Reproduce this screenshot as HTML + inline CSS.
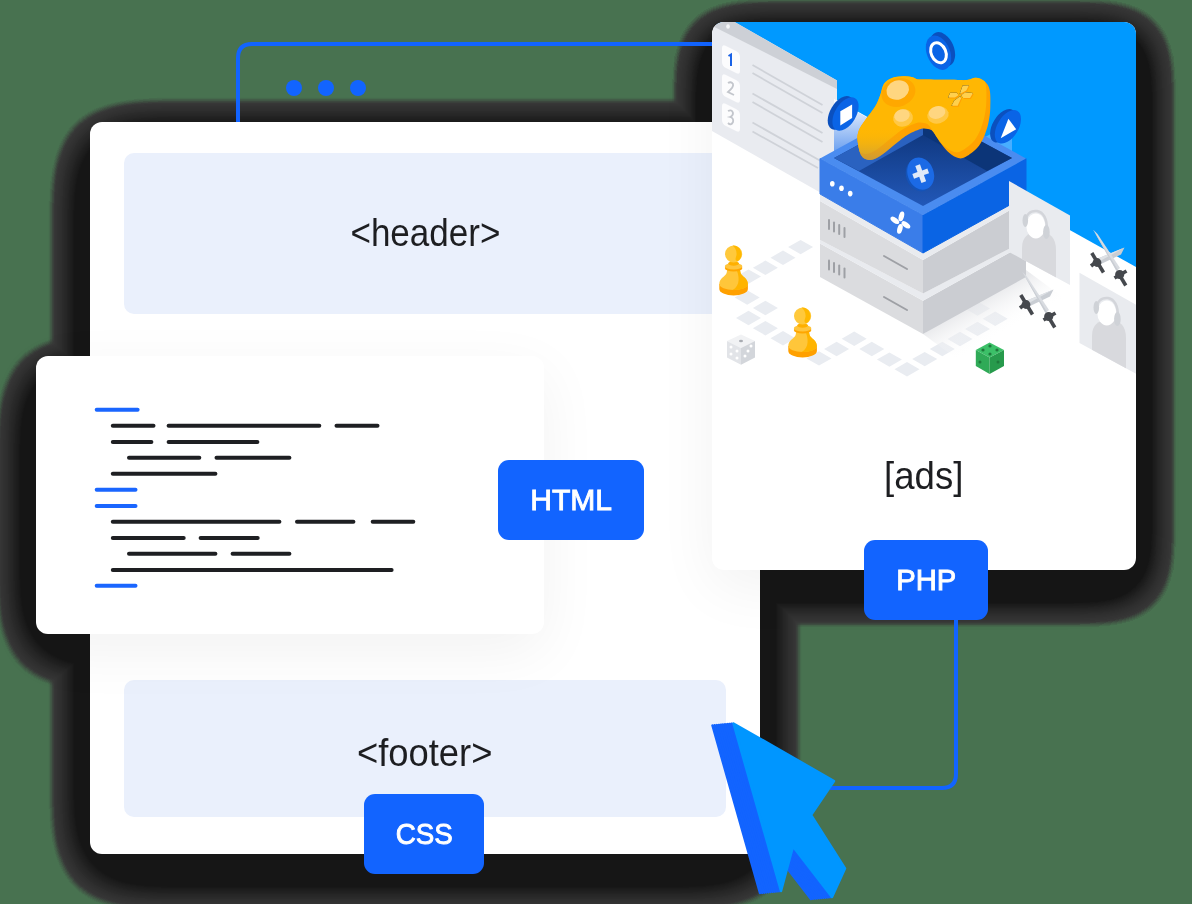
<!DOCTYPE html>
<html><head><meta charset="utf-8">
<style>
html,body{margin:0;padding:0;}
body{width:1192px;height:904px;overflow:hidden;background:#487250;position:relative;font-family:"Liberation Sans",sans-serif;}
.abs{position:absolute;}
.shd{position:absolute;background:#1c1c1c;filter:blur(5px);}
.panel{position:absolute;background:#fff;}
.box{position:absolute;background:#eaf0fc;border-radius:10px;}
.lbl{position:absolute;color:#1d1e21;font-size:38.5px;text-align:center;line-height:1;}
.lbl span,.btn span{display:inline-block;}
.btn{position:absolute;background:#1264ff;border-radius:11px;color:#fff;font-size:29.5px;font-weight:normal;-webkit-text-stroke:0.9px #fff;text-align:center;}
</style></head>
<body>
<!-- shadows -->
<svg class="abs" style="left:0;top:0" width="1192" height="904">
  <defs>
    <filter id="sh" filterUnits="userSpaceOnUse" x="-300" y="-300" width="1800" height="1500" color-interpolation-filters="sRGB">
      <feOffset in="SourceAlpha" dy="17" result="o"/>
      <feGaussianBlur in="o" stdDeviation="32" result="b"/>
      <feComponentTransfer in="b" result="t1"><feFuncA type="linear" slope="29" intercept="-2.57"/></feComponentTransfer>
      <feComponentTransfer in="b" result="t2"><feFuncA type="linear" slope="4.7" intercept="-0.5"/></feComponentTransfer>
      <feFlood flood-color="#3a3a3a" result="f1"/>
      <feComposite in="f1" in2="t1" operator="in" result="c1"/>
      <feFlood flood-color="#161616" result="f2"/>
      <feComposite in="f2" in2="t2" operator="in" result="c2"/>
      <feMerge><feMergeNode in="c1"/><feMergeNode in="c2"/></feMerge>
    </filter>
    <filter id="sh2" filterUnits="userSpaceOnUse" x="-300" y="-300" width="1800" height="1500" color-interpolation-filters="sRGB">
      <feOffset in="SourceAlpha" dy="17" result="o"/>
      <feGaussianBlur in="o" stdDeviation="24" result="b"/>
      <feComponentTransfer in="b" result="t1"><feFuncA type="linear" slope="40" intercept="-1.42"/></feComponentTransfer>
      <feComponentTransfer in="b" result="t2"><feFuncA type="linear" slope="4.7" intercept="-0.225"/></feComponentTransfer>
      <feFlood flood-color="#3a3a3a" result="f1"/>
      <feComposite in="f1" in2="t1" operator="in" result="c1"/>
      <feFlood flood-color="#161616" result="f2"/>
      <feComposite in="f2" in2="t2" operator="in" result="c2"/>
      <feMerge><feMergeNode in="c1"/><feMergeNode in="c2"/></feMerge>
    </filter>
  </defs>
  <rect style="mix-blend-mode:darken" filter="url(#sh)" x="90" y="122" width="670" height="732" rx="12"/>
  <rect style="mix-blend-mode:darken" filter="url(#sh)" x="36" y="356" width="508" height="278" rx="12"/>
  <rect style="mix-blend-mode:darken" filter="url(#sh2)" x="712" y="22" width="424" height="548" rx="12"/>
</svg>

<!-- blue outline -->
<svg class="abs" style="left:0;top:0" width="1192" height="904">
  <path d="M238 122 V58 Q238 44 252 44 H720" fill="none" stroke="#1264ff" stroke-width="4"/>
  <circle cx="294" cy="88" r="8" fill="#1264ff"/>
  <circle cx="326" cy="88" r="8" fill="#1264ff"/>
  <circle cx="358" cy="88" r="8" fill="#1264ff"/>
  <path d="M956 620 V774 Q956 788 942 788 H830" fill="none" stroke="#1264ff" stroke-width="4"/>
</svg>

<!-- main panel -->
<div class="panel" style="left:90px;top:122px;width:670px;height:732px;border-radius:12px;"></div>
<div class="box" style="left:124px;top:153px;width:602px;height:161px;"></div>
<div class="lbl" style="left:124px;top:214px;width:602px;"><span style="transform:scaleX(0.91)">&lt;header&gt;</span></div>
<div class="box" style="left:124px;top:680px;width:602px;height:137px;"></div>
<div class="lbl" style="left:124px;top:734px;width:602px;"><span style="transform:scaleX(0.944)">&lt;footer&gt;</span></div>

<!-- code panel -->
<div class="panel" style="left:36px;top:356px;width:508px;height:278px;border-radius:12px;box-shadow:0 17px 60px rgba(0,0,0,0.055);"></div>
<svg class="abs" style="left:0;top:0" width="1192" height="904" stroke-linecap="round" stroke-width="4" fill="none">
<line x1="96.7" y1="409.7" x2="137.6" y2="409.7" stroke="#1a66ff"/>
<line x1="112.8" y1="425.8" x2="153.5" y2="425.8" stroke="#1e1f22"/>
<line x1="168.6" y1="425.8" x2="319.3" y2="425.8" stroke="#1e1f22"/>
<line x1="336.5" y1="425.8" x2="377.5" y2="425.8" stroke="#1e1f22"/>
<line x1="112.8" y1="442.0" x2="151.4" y2="442.0" stroke="#1e1f22"/>
<line x1="168.6" y1="442.0" x2="257.4" y2="442.0" stroke="#1e1f22"/>
<line x1="129.0" y1="457.8" x2="199.3" y2="457.8" stroke="#1e1f22"/>
<line x1="216.5" y1="457.8" x2="289.4" y2="457.8" stroke="#1e1f22"/>
<line x1="112.8" y1="473.7" x2="215.4" y2="473.7" stroke="#1e1f22"/>
<line x1="96.7" y1="489.8" x2="135.5" y2="489.8" stroke="#1a66ff"/>
<line x1="96.7" y1="506.0" x2="135.5" y2="506.0" stroke="#1a66ff"/>
<line x1="112.8" y1="521.8" x2="279.4" y2="521.8" stroke="#1e1f22"/>
<line x1="297.0" y1="521.8" x2="353.4" y2="521.8" stroke="#1e1f22"/>
<line x1="372.7" y1="521.8" x2="413.3" y2="521.8" stroke="#1e1f22"/>
<line x1="112.8" y1="538.0" x2="183.7" y2="538.0" stroke="#1e1f22"/>
<line x1="200.6" y1="538.0" x2="257.7" y2="538.0" stroke="#1e1f22"/>
<line x1="129.0" y1="553.8" x2="215.4" y2="553.8" stroke="#1e1f22"/>
<line x1="232.6" y1="553.8" x2="289.4" y2="553.8" stroke="#1e1f22"/>
<line x1="112.8" y1="570.0" x2="391.6" y2="570.0" stroke="#1e1f22"/>
<line x1="96.7" y1="585.8" x2="135.5" y2="585.8" stroke="#1a66ff"/>
</svg>

<div class="btn" style="left:498px;top:460px;width:146px;height:80px;line-height:80px;"><span style="transform:scaleX(1.02)">HTML</span></div>

<!-- ads panel -->
<div class="panel" style="left:712px;top:22px;width:424px;height:548px;border-radius:12px;overflow:hidden;box-shadow:0 17px 60px rgba(0,0,0,0.055);">
<svg width="424" height="548" viewBox="712 22 424 548" style="position:absolute;left:0;top:0">
<defs>
  <linearGradient id="glass" x1="0" y1="0" x2="0" y2="1">
    <stop offset="0" stop-color="#ffffff" stop-opacity="1"/>
    <stop offset="1" stop-color="#5a95ee" stop-opacity="1"/>
  </linearGradient>
  <linearGradient id="cav" x1="0" y1="0" x2="0" y2="1">
    <stop offset="0" stop-color="#0a2e6e"/>
    <stop offset="1" stop-color="#2258b8"/>
  </linearGradient>
  <linearGradient id="fshadow" gradientUnits="userSpaceOnUse" x1="972" y1="305" x2="992" y2="340">
    <stop offset="0" stop-color="#e4e5e8"/>
    <stop offset="1" stop-color="#ffffff" stop-opacity="0"/>
  </linearGradient>
  <clipPath id="clipA"><polygon points="1009,181 1070,215.5 1070,285 1009,252"/></clipPath>
  <clipPath id="clipB"><polygon points="1079.5,272.7 1140,307 1140,376 1079.5,343"/></clipPath>
</defs>
<!-- sky -->
<polygon points="712,22 1136,22 1136,267 837,100 712,22" fill="#0099ff"/>

<!-- list panel -->
<polygon points="712,22 734.7,22 837,80.5 837,202 712,131" fill="#e9ebf0"/>
<polygon points="718,22 734.5,22 837,80.5 837,89 712.5,26" fill="#cdd0d6"/>
<ellipse cx="728" cy="26.5" rx="1.8" ry="2.3" fill="#f5f6f8"/>
<g fill="#fcfcfd">
  <path d="M722 48 Q722 44 726 46 L736 51 Q740 53 740 57 L740 71 Q740 75 736 73 L726 68 Q722 66 722 62 Z"/>
  <path d="M722 77 Q722 73 726 75 L736 80 Q740 82 740 86 L740 100 Q740 104 736 102 L726 97 Q722 95 722 91 Z"/>
  <path d="M722 106 Q722 102 726 104 L736 109 Q740 111 740 115 L740 129 Q740 133 736 131 L726 126 Q722 124 722 120 Z"/>
</g>
<path d="M728.5 56 L731 54.5 L731 66" fill="none" stroke="#1a62e6" stroke-width="2"/>
<path d="M728 83 Q731 81 733 84 Q734 87 728 92 L734 95" fill="none" stroke="#c3c6cc" stroke-width="1.8"/>
<path d="M728 111 Q732 109 733 113 Q733 116 730 117 Q734 118 733 122 Q731 126 728 123" fill="none" stroke="#c3c6cc" stroke-width="1.8"/>
<g stroke="#cfd2d8" stroke-width="1.8">
  <line x1="752.5" y1="65" x2="822.5" y2="105"/>
  <line x1="752.5" y1="73" x2="822.5" y2="113"/>
  <line x1="752.5" y1="93.5" x2="822.5" y2="133"/>
  <line x1="752.5" y1="102" x2="822.5" y2="142"/>
  <line x1="752.5" y1="122.5" x2="822.5" y2="162"/>
  <line x1="752.5" y1="131.5" x2="818" y2="168"/>
</g>

<!-- floor tiles -->
<g fill="#e9ecf1">
  <polygon points="788.1,247.1 800.6,239.9 813.1,247.1 800.6,254.3"/>
  <polygon points="770.5,257.7 783.0,250.5 795.5,257.7 783.0,264.9"/>
  <polygon points="752.9,267.8 765.4,260.6 777.9,267.8 765.4,275.0"/>
  <polygon points="736.0,276.6 748.5,269.4 761.0,276.6 748.5,283.8"/>
  <polygon points="734.7,297.5 747.2,290.3 759.7,297.5 747.2,304.7"/>
  <polygon points="752.9,308.0 765.4,300.8 777.9,308.0 765.4,315.2"/>
  <polygon points="736.0,318.0 748.5,310.8 761.0,318.0 748.5,325.2"/>
  <polygon points="752.9,328.2 765.4,321.0 777.9,328.2 765.4,335.4"/>
  <polygon points="770.5,338.2 783.0,331.0 795.5,338.2 783.0,345.4"/>
  <polygon points="806.5,358.4 819.0,351.2 831.5,358.4 819.0,365.6"/>
  <polygon points="824.1,349.0 836.6,341.8 849.1,349.0 836.6,356.2"/>
  <polygon points="841.7,338.7 854.2,331.5 866.7,338.7 854.2,345.9"/>
  <polygon points="859.3,349.0 871.8,341.8 884.3,349.0 871.8,356.2"/>
  <polygon points="876.9,359.6 889.4,352.4 901.9,359.6 889.4,366.8"/>
  <polygon points="894.5,369.2 907.0,362.0 919.5,369.2 907.0,376.4"/>
  <polygon points="912.2,359.1 924.7,351.9 937.2,359.1 924.7,366.3"/>
  <polygon points="929.8,349.0 942.3,341.8 954.8,349.0 942.3,356.2"/>
  <polygon points="947.5,339.0 960.0,331.8 972.5,339.0 960.0,346.2"/>
  <polygon points="965.0,328.9 977.5,321.7 990.0,328.9 977.5,336.1"/>
  <polygon points="982.7,318.8 995.2,311.6 1007.7,318.8 995.2,326.0"/>
  <polygon points="965.0,308.5 977.5,301.3 990.0,308.5 977.5,315.7"/>
</g>
<!-- floor shadow right of box -->
<polygon points="923,334 1026,270 1080,310 975,372" fill="url(#fshadow)" opacity="0.8"/>

<!-- avatar panel A (behind? drawn after boxes) -->
<!-- gray box 2 -->
<polygon points="820,243.5 923,300.7 923,334 820,277" fill="#dbdcdf"/>
<polygon points="923,300.7 1026,243.5 1026,277 923,334" fill="#cbcdd2"/>
<polygon points="820,240 923,293.4 1026,240 1026,243.5 923,300.7 820,243.5" fill="#e9ebef"/>
<!-- gray box 1 -->
<polygon points="820,201 923,260 923,293.4 820,240" fill="#dbdcdf"/>
<polygon points="923,260 1026,201 1026,240 923,293.4" fill="#cbcdd2"/>
<polygon points="820,194 923,253 1026,194 1026,201 923,260 820,201" fill="#e9ebef"/>
<g stroke="#9ea0a5" stroke-width="2" stroke-linecap="round">
  <line x1="829" y1="220" x2="829" y2="229"/>
  <line x1="834" y1="222.5" x2="834" y2="231.5"/>
  <line x1="839.2" y1="225" x2="839.2" y2="234"/>
  <line x1="844.5" y1="228" x2="844.5" y2="237"/>
  <line x1="829" y1="260.6" x2="829" y2="269.6"/>
  <line x1="834" y1="263.1" x2="834" y2="272.1"/>
  <line x1="839.2" y1="265.6" x2="839.2" y2="274.6"/>
  <line x1="844.5" y1="268.6" x2="844.5" y2="277.6"/>
  <line x1="884" y1="256" x2="907" y2="269"/>
  <line x1="884" y1="297" x2="907" y2="310"/>
</g>

<!-- blue box -->
<polygon points="820,158.5 923,215 923,253 820,194" fill="#3a7de9" stroke="#3a7de9" stroke-width="1"/>
<polygon points="923,215 1026,158.5 1026,196 923,253" fill="#0a64e4" stroke="#0a64e4" stroke-width="1"/>
<!-- glass walls -->
<polygon points="834,99 895,133 834,158" fill="url(#glass)"/>
<polygon points="985,137 1012,123 1012,158" fill="#8fc3ff" opacity="0.5"/>
<!-- rim -->
<polygon points="820,158.5 923,102 1026,158.5 923,215" fill="#4a8cf0"/>
<polygon points="834,158 923,110 1012,158 923,206" fill="url(#cav)"/>
<polygon points="834,158 923,110 923,135 859,171" fill="#2a62c0"/>
<polygon points="923,110 1012,158 987,171 923,135" fill="#0c3578"/>
<!-- dots & pinwheel on left face -->
<g fill="#fff">
  <ellipse cx="832.3" cy="183.7" rx="2.3" ry="2.8"/>
  <ellipse cx="841.5" cy="188.3" rx="2.3" ry="2.8"/>
  <ellipse cx="850.2" cy="193.6" rx="2.3" ry="2.8"/>
  <g transform="translate(900.4 222.3)">
    <ellipse cx="1" cy="-6" rx="2.6" ry="5" transform="rotate(15 1 -6)"/>
    <ellipse cx="5.5" cy="2.5" rx="5" ry="2.6" transform="rotate(35 5.5 2.5)"/>
    <ellipse cx="-0.5" cy="6.5" rx="2.6" ry="5" transform="rotate(15 -0.5 6.5)"/>
    <ellipse cx="-5.5" cy="-2" rx="5" ry="2.6" transform="rotate(35 -5.5 -2)"/>
  </g>
</g>
<!-- plus coin -->
<g transform="translate(920.7 173.6) rotate(-20)">
  <ellipse cx="-2" cy="1" rx="13" ry="16.5" fill="#1453b8"/>
  <ellipse cx="0" cy="0" rx="13" ry="16.5" fill="#1b6ae6"/>
  <path d="M-2.5 -9 H2.5 V-2.5 H8 V2.5 H2.5 V9 H-2.5 V2.5 H-8 V-2.5 H-2.5 Z" fill="#dfe9f8"/>
</g>
<!-- controller -->
<defs>
  <path id="ctl" d="M857.6 140.5 C858.0 144.7 859.4 152.3 861.3 155.6 C863.2 158.8 865.9 159.8 868.9 160.0 C871.8 160.2 874.3 159.7 878.9 156.8 C883.6 154.0 891.9 146.5 896.6 143.0 C901.2 139.4 902.6 137.7 906.6 135.4 C910.6 133.1 916.9 130.2 920.5 129.1 C924.0 128.1 925.9 128.7 928.0 129.1 C930.1 129.6 931.0 129.4 933.1 131.7 C935.1 134.0 937.9 139.4 940.6 143.0 C943.3 146.5 946.5 150.5 949.4 153.1 C952.3 155.6 955.5 157.5 958.2 158.1 C960.9 158.7 962.6 158.5 965.8 156.8 C968.9 155.1 974.2 151.2 977.1 148.0 C980.0 144.9 981.5 142.1 983.4 138.0 C985.3 133.8 987.3 127.9 988.4 122.9 C989.6 117.8 990.1 113.2 990.3 107.8 C990.5 102.3 990.6 94.5 989.7 90.1 C988.7 85.7 986.9 83.4 984.6 81.3 C982.3 79.3 978.8 78.0 975.8 77.8 C972.9 77.6 971.2 79.7 967.0 80.1 C962.8 80.4 957.6 79.9 950.7 79.8 C943.7 79.7 931.0 79.5 925.5 79.4 C920.0 79.4 920.3 79.9 918.0 79.4 C915.6 79.0 914.2 77.4 911.7 76.9 C909.1 76.4 906.2 76.1 902.9 76.3 C899.5 76.5 894.7 76.9 891.5 78.2 C888.4 79.4 885.9 81.0 884.0 83.8 C882.1 86.7 881.7 91.4 880.2 95.2 C878.7 98.9 877.7 102.3 875.2 106.5 C872.7 110.7 867.8 116.3 865.1 120.3 C862.4 124.3 860.1 127.0 858.8 130.4 C857.6 133.8 857.1 136.3 857.6 140.5 Z"/>
  <clipPath id="ctlclip"><use href="#ctl"/></clipPath>
  <linearGradient id="gripfade" x1="0" y1="0" x2="0" y2="1">
    <stop offset="0" stop-color="#ffb703" stop-opacity="0"/>
    <stop offset="1" stop-color="#9c8c6a" stop-opacity="0.9"/>
  </linearGradient>
</defs>
<use href="#ctl" fill="#ffa200"/>
<g clip-path="url(#ctlclip)">
  <use href="#ctl" fill="#ffb703" transform="translate(-4 -6)"/>
  <polygon points="845,128 905,128 905,170 845,170" fill="url(#gripfade)"/>
</g>
<g transform="translate(898.4 92.5) rotate(-20)"><ellipse rx="17.3" ry="14" fill="#ffa800"/></g>
<g transform="translate(897.7 90) rotate(-20)"><ellipse rx="11.5" ry="9.5" fill="#ffd680"/></g>
<g transform="translate(903 118) rotate(-15)"><ellipse rx="10" ry="8.5" fill="#ffc845"/></g>
<g transform="translate(902 115.5) rotate(-15)"><ellipse rx="7.8" ry="6.2" fill="#ffd680"/></g>
<g transform="translate(938 115) rotate(-15)"><ellipse rx="10.8" ry="8.5" fill="#ffc845"/></g>
<g transform="translate(937 112.5) rotate(-15)"><ellipse rx="8.5" ry="6.2" fill="#ffd680"/></g>
<g id="dpad">
  <polygon points="959.5,94.2 962.6,85.5 969,85.3 966.3,90.4"/>
  <polygon points="961,95 965.6,92.3 973,93 970,97.9 963.3,97.9"/>
  <polygon points="960.3,96 961,98.3 957.7,105.8 951.3,105.8 954.3,100.6"/>
  <polygon points="958.4,95.3 955,97.5 947.9,97.5 950.2,92.7 957,92.7"/>
</g>
<use href="#dpad" fill="#ffa000" transform="translate(0.8 1)"/>
<use href="#dpad" fill="#ffd04d"/>
<!-- coins -->
<g transform="translate(942.4 49.3) rotate(-23)"><ellipse rx="11.5" ry="18" fill="#0b50be"/></g>
<g transform="translate(938.5 52.7) rotate(-23)">
  <ellipse rx="11.5" ry="18" fill="#0a64e6"/>
  <ellipse rx="7.3" ry="10.4" fill="none" stroke="#fff" stroke-width="3"/>
</g>
<g transform="translate(840.8 112.9) rotate(31)"><ellipse rx="10.5" ry="18.5" fill="#0b50be"/></g>
<g transform="translate(845.5 114) rotate(31)"><ellipse rx="10.5" ry="18.5" fill="#0a64e6"/></g>
<polygon points="840.3,111.2 852.1,104.6 852.1,118.1 840.3,125.6" fill="#fff"/>
<g transform="translate(1003.2 125.8) rotate(31)"><ellipse rx="10.5" ry="18.5" fill="#0b50be"/></g>
<g transform="translate(1007.9 126.8) rotate(31)"><ellipse rx="10.5" ry="18.5" fill="#0a64e6"/></g>
<polygon points="1008.4,118.8 1016.2,129.3 1000.7,138.2" fill="#fff"/>

<!-- avatar panel A -->
<polygon points="1009,181 1070,215.5 1070,285 1009,252" fill="#e9ebef"/>
<g clip-path="url(#clipA)">
  <path d="M1022 300 V248 Q1022 232 1039 232 Q1056 232 1056 250 V300 Z" fill="#d8d9dd"/>
</g>
<ellipse cx="1035.8" cy="226" rx="9.5" ry="12.5" fill="#fff"/>
<path d="M1025 224 Q1026 210 1037 211 Q1047 213 1047 230" fill="none" stroke="#d3d5da" stroke-width="2.5"/>
<ellipse cx="1025.3" cy="220.5" rx="2.8" ry="6.5" fill="#cfd2d7"/>
<ellipse cx="1046.4" cy="232" rx="3.3" ry="7" fill="#cfd2d7"/>

<!-- avatar panel B -->
<polygon points="1079.5,272.7 1140,307 1140,376 1079.5,343" fill="#e9ebef"/>
<g clip-path="url(#clipB)">
  <path d="M1092 400 V336 Q1092 320 1109 320 Q1126 320 1126 338 V400 Z" fill="#d8d9dd"/>
</g>
<ellipse cx="1106.8" cy="313" rx="9.5" ry="12.5" fill="#fff"/>
<path d="M1096 311 Q1097 297 1108 298 Q1118 300 1118 317" fill="none" stroke="#d3d5da" stroke-width="2.5"/>
<ellipse cx="1096.3" cy="307.5" rx="2.8" ry="6.5" fill="#cfd2d7"/>
<ellipse cx="1117.4" cy="319" rx="3.3" ry="7" fill="#cfd2d7"/>

<!-- swords -->
<g id="swords1">
  <polygon points="1053.5,289.5 1050,296.5 1030,306 1028,300" fill="#c9cdd3"/>
  <polygon points="1053.5,289.5 1028,300 1029,303" fill="#dfe2e6"/>
  <polygon points="1022.2,271.8 1026.5,276 1049,310 1045.5,313" fill="#d9dce1"/>
  <polygon points="1022.2,271.8 1045.5,313 1047,312" fill="#c9cdd3"/>
  <g fill="#45484d" stroke="#45484d" stroke-width="3.6" stroke-linecap="butt">
    <line x1="1020.8" y1="295" x2="1032.5" y2="314.5"/>
    <line x1="1020" y1="308" x2="1027" y2="302.5"/>
    <circle cx="1026" cy="304.5" r="2.6"/>
    <line x1="1043.5" y1="320" x2="1055.5" y2="313"/>
    <line x1="1048.5" y1="317" x2="1054.8" y2="327.5"/>
    <circle cx="1048.7" cy="316.5" r="2.8"/>
  </g>
</g>
<use href="#swords1" transform="translate(71 -42)"/>

<!-- pawns -->
<g id="pawn">
  <path d="M-14.3 -1 L-14.3 4 A14.3 6.5 0 0 0 14.3 4 L14.3 -1 Z" fill="#ffa000"/>
  <path d="M-14.3 -1 C-14.3 -7 -8 -8.5 -7 -12 L-6 -17 L6 -17 L7 -12 C8 -8.5 14.3 -7 14.3 -1 A14.3 6 0 0 1 -14.3 -1 Z" fill="#ffc63a"/>
  <path d="M2 -17 L6 -17 L7 -12 C8 -8.5 14.3 -7 14.3 -1 A14.3 6 0 0 1 -1 5 C7 1 6 -10 2 -17 Z" fill="#ffb400"/>
  <ellipse cx="0" cy="-17" rx="8.8" ry="3.6" fill="#ffa600"/>
  <ellipse cx="0" cy="-18.8" rx="8.8" ry="3.2" fill="#ffc53d"/>
  <ellipse cx="0" cy="-21.5" rx="5.5" ry="2.2" fill="#ffb000"/>
  <circle cx="0" cy="-31" r="8.6" fill="#ffc93c"/>
  <path d="M-1 -39.5 A8.6 8.6 0 0 1 4 -23.8 C0 -25 3 -28 3 -31 C3 -35 1 -38 -1 -39.5 Z" fill="#ffb800"/>
</g>
<use href="#pawn" transform="translate(733.6 285)"/>
<use href="#pawn" transform="translate(802.6 347)"/>

<!-- white dice -->
<g>
  <polygon points="727,341 741,334.5 755,341 741,348" fill="#f1f2f4"/>
  <polygon points="727,341 741,348 741,364.7 727,357.5" fill="#e2e4e8"/>
  <polygon points="741,348 755,341 755,357.5 741,364.7" fill="#d3d6db"/>
  <ellipse cx="741" cy="341" rx="2" ry="1.2" fill="#a9acb2"/>
  <g fill="#fff">
  <circle cx="731" cy="347" r="1.5"/><circle cx="737" cy="351" r="1.5"/><circle cx="731" cy="354" r="1.5"/><circle cx="737" cy="358" r="1.5"/>
  <circle cx="751" cy="346" r="1.5"/><circle cx="748" cy="351" r="1.5"/><circle cx="745" cy="356" r="1.5"/>
  </g>
</g>
<!-- green dice -->
<g>
  <polygon points="975.8,350 989.6,342.5 1004,350 989.6,357.5" fill="#3cc068"/>
  <polygon points="975.8,350 989.6,357.5 989.6,374 975.8,366" fill="#2faa57"/>
  <polygon points="989.6,357.5 1004,350 1004,366 989.6,374" fill="#279a4c"/>
  <g fill="#1e7a3c"><circle cx="983" cy="350" r="1.6"/><circle cx="990" cy="346" r="1.6"/><circle cx="990" cy="354" r="1.6"/><circle cx="997" cy="350" r="1.6"/>
  <circle cx="980" cy="362" r="1.5"/><circle cx="998" cy="362" r="1.5"/></g>
</g>
</svg>

</div>
<div class="lbl" style="left:712px;top:457px;width:424px;"><span style="transform:scaleX(0.95)">[ads]</span></div>
<div class="btn" style="left:864px;top:540px;width:124px;height:80px;line-height:80px;"><span style="transform:scaleX(0.99)">PHP</span></div>
<div class="btn" style="left:364px;top:794px;width:120px;height:80px;line-height:80px;"><span style="transform:scaleX(0.94)">CSS</span></div>

<!-- cursor -->
<svg class="abs" style="left:0;top:0" width="1192" height="904">
<defs><path id="arr" d="M733.5 723.5 L834 781 L811 815 L845 868.5 L832 897 L793 846.5 L781 891 Z"/></defs>
<g fill="#1264ff" stroke="#1264ff" stroke-width="2.5" stroke-linejoin="round">
<use href="#arr" transform="translate(-21.0 2.0)"/>
<use href="#arr" transform="translate(-18.9 1.8)"/>
<use href="#arr" transform="translate(-16.8 1.6)"/>
<use href="#arr" transform="translate(-14.7 1.4)"/>
<use href="#arr" transform="translate(-12.6 1.2)"/>
<use href="#arr" transform="translate(-10.5 1.0)"/>
<use href="#arr" transform="translate(-8.4 0.8)"/>
<use href="#arr" transform="translate(-6.3 0.6)"/>
<use href="#arr" transform="translate(-4.2 0.4)"/>
<use href="#arr" transform="translate(-2.1 0.2)"/>
</g>
<use href="#arr" fill="#0096ff" stroke="#0096ff" stroke-width="2.5" stroke-linejoin="round"/>
</svg>
</body></html>
